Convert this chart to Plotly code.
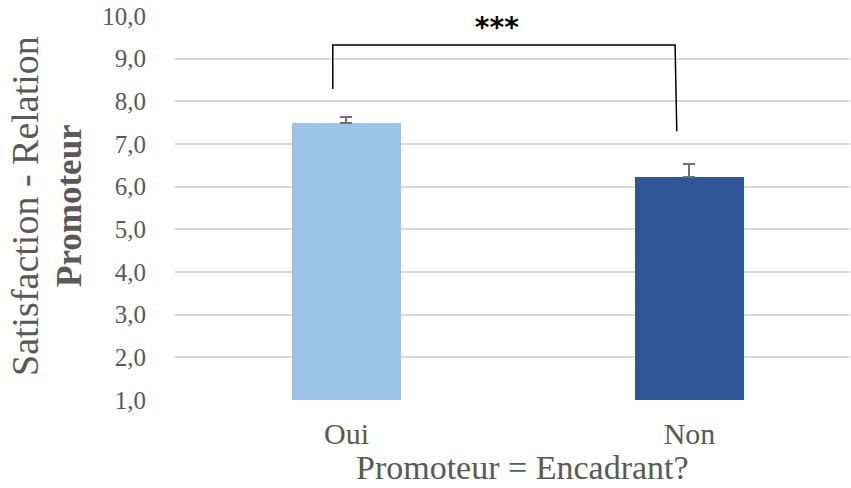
import plotly.graph_objects as go

# Data
categories = ["Oui", "Non"]
means = [7.49, 6.22]
errors_plus = [0.15, 0.31]
bar_colors = ["#9DC3E6", "#2F5597"]
y_ticks = [1, 2, 3, 4, 5, 6, 7, 8, 9, 10]
y_tick_labels = ["1,0", "2,0", "3,0", "4,0", "5,0", "6,0", "7,0", "8,0", "9,0", "10,0"]
significance = "***"

TEXT = "#595959"
SERIF = "Liberation Serif"

fig = go.Figure()
fig.add_trace(go.Bar(
    x=categories,
    y=means,
    width=0.315,
    marker=dict(color=bar_colors, line=dict(width=0)),
    error_y=dict(type="data", array=errors_plus, arrayminus=[0, 0], symmetric=False,
                 color="#707070", thickness=2, width=6),
    showlegend=False,
    hoverinfo="skip",
))

# Significance bracket between the two groups
fig.add_shape(type="path",
              path="M -0.04,8.29 L -0.04,9.32 L 0.958,9.32 L 0.963,7.30",
              xref="x", yref="y", line=dict(color="black", width=1.5))
fig.add_annotation(x=0.44, y=9.74, xref="x", yref="y", text="<b>" + significance + "</b>",
                   showarrow=False, bgcolor="white", width=98, height=28,
                   font=dict(family="DejaVu Sans", size=28, color="black"))

# Axis titles
fig.add_annotation(x=(25 - 175) / 675, y=(400 - 206) / 384, xref="paper", yref="paper",
                   text="Satisfaction - Relation", textangle=-90, showarrow=False,
                   xanchor="center", yanchor="middle",
                   font=dict(family=SERIF, size=38, color=TEXT))
fig.add_annotation(x=(69 - 175) / 675, y=(400 - 206) / 384, xref="paper", yref="paper",
                   text="<b>Promoteur</b>", textangle=-90, showarrow=False,
                   xanchor="center", yanchor="middle",
                   font=dict(family=SERIF, size=35, color=TEXT))
fig.add_annotation(x=(522 - 175) / 675, y=(400 - 467) / 384, xref="paper", yref="paper",
                   text="Promoteur = Encadrant?", showarrow=False,
                   xanchor="center", yanchor="middle",
                   font=dict(family=SERIF, size=34, color=TEXT))

fig.update_layout(
    width=851, height=488,
    margin=dict(l=175, r=1, t=16, b=88),
    paper_bgcolor="white", plot_bgcolor="white",
    bargap=0,
    xaxis=dict(type="category", range=[-0.5, 1.468], showgrid=False, showline=False,
               zeroline=False, ticks="", ticklabelstandoff=13,
               tickfont=dict(family=SERIF, size=30, color=TEXT)),
    yaxis=dict(range=[1, 10], tickvals=y_ticks, ticktext=y_tick_labels,
               showgrid=True, gridcolor="#d9d9d9", gridwidth=1.5,
               showline=False, zeroline=False, ticks="", ticklabelstandoff=28,
               tickfont=dict(family=SERIF, size=25, color=TEXT)),
)

fig.write_html("out.html")
